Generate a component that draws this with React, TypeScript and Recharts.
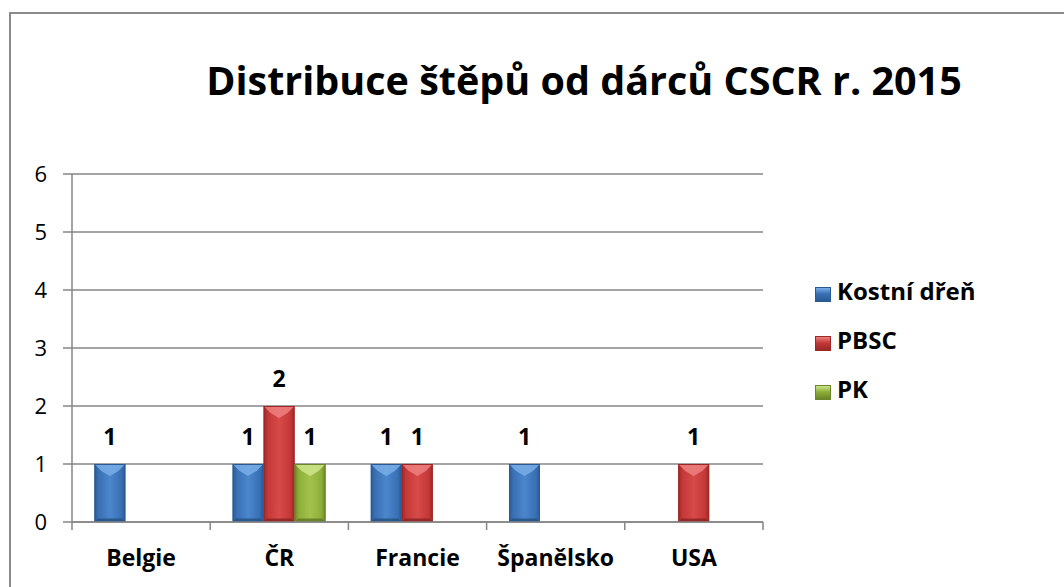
import React from 'react';
import { BarChart, Bar, XAxis, YAxis, CartesianGrid, LabelList, Legend } from 'recharts';

const categories = ['Belgie', 'ČR', 'Francie', 'Španělsko', 'USA'];
const kostniDren = [1, 1, 1, 1, null];
const pbsc = [null, 2, 1, null, 1];
const pk = [null, 1, null, null, null];
const yTicks = [0, 1, 2, 3, 4, 5, 6];
const seriesNames = ['Kostní dřeň', 'PBSC', 'PK'];
const title = 'Distribuce štěpů od dárců CSCR r. 2015';

const data = categories.map((c, i) => ({ name: c, kd: kostniDren[i], pbsc: pbsc[i], pk: pk[i] }));

const FONT = '"Open Sans", "Noto Sans", sans-serif';
const GRID = '#868686';
const W = 1064;
const H = 587;
const PLOT_LEFT = 72;
const PLOT_RIGHT = 763;
const PLOT_TOP = 174;
const PLOT_BOTTOM = 522;

const palettes = [
  { id: 'blue', dark: '#2A5A94', mid: '#3A70B4', light: '#4B86CC', top: '#78AEE8', bottom: '#24507F' },
  { id: 'red', dark: '#9C2826', mid: '#C43838', light: '#D64A4A', top: '#EE8080', bottom: '#8A2220' },
  { id: 'green', dark: '#6A8628', mid: '#8DAF38', light: '#A2C24C', top: '#CDE58C', bottom: '#5E7722' },
];

const Gradients = () => (
  <defs>
    {palettes.map((p) => (
      <linearGradient key={p.id} id={`grad-${p.id}`} x1="0" y1="0" x2="1" y2="0">
        <stop offset="0%" stopColor={p.dark} />
        <stop offset="14%" stopColor={p.mid} />
        <stop offset="50%" stopColor={p.light} />
        <stop offset="86%" stopColor={p.mid} />
        <stop offset="100%" stopColor={p.dark} />
      </linearGradient>
    ))}
  </defs>
);

const makeShape = (pi: number) => (props: any) => {
  const { x, y, width: w, height: h } = props;
  if (h == null || h <= 0 || w == null) return <g />;
  const p = palettes[pi];
  const b = Math.min(7, h / 3, w / 4);
  return (
    <g>
      <rect x={x} y={y} width={w} height={h} fill={`url(#grad-${p.id})`} />
      <polygon
        points={`${x},${y} ${x + w},${y} ${x + w - b},${y + b} ${x + w / 2},${y + b * 1.7} ${x + b},${y + b}`}
        fill={p.top}
        opacity={0.85}
      />
      <polygon
        points={`${x},${y + h} ${x + w},${y + h} ${x + w - b * 0.5},${y + h - b * 0.5} ${x + b * 0.5},${y + h - b * 0.5}`}
        fill={p.bottom}
        opacity={0.8}
      />
      <rect x={x + 0.5} y={y + 0.5} width={w - 1} height={h - 1} fill="none" stroke={p.dark} strokeWidth={1} />
    </g>
  );
};

const XTick = (props: any) => {
  const { x, y, payload, index, visibleTicksCount } = props;
  const bw = (PLOT_RIGHT - PLOT_LEFT) / categories.length;
  const half = payload && payload.offset > 0 ? payload.offset : bw / 2;
  return (
    <g>
      <line x1={x - half} x2={x - half} y1={y} y2={y + 8} stroke={GRID} strokeWidth={1.5} />
      {index === (visibleTicksCount ?? categories.length) - 1 && (
        <line x1={x + half} x2={x + half} y1={y} y2={y + 8} stroke={GRID} strokeWidth={1.5} />
      )}
      <text x={x} y={y + 44} textAnchor="middle" fontFamily={FONT} fontWeight={700} fontSize={23} fill="#000">
        {payload.value}
      </text>
    </g>
  );
};

const LegendContent = () => (
  <div style={{ fontFamily: FONT, fontWeight: 700, fontSize: 24, color: '#000' }}>
    {seriesNames.map((n, i) => {
      const p = palettes[i];
      return (
        <div key={n} style={{ height: 49, lineHeight: '49px', display: 'flex', alignItems: 'center', whiteSpace: 'nowrap' }}>
          <span
            style={{
              display: 'inline-block',
              width: 16,
              height: 15,
              marginRight: 6,
              marginTop: 8,
              boxSizing: 'border-box',
              border: `1px solid ${p.dark}`,
              background: `linear-gradient(to bottom, ${p.top} 0%, ${p.mid} 45%, ${p.dark} 100%)`,
            }}
          />
          <span>{n}</span>
        </div>
      );
    })}
  </div>
);

export default function App() {
  return (
    <div style={{ position: 'relative', width: W, height: H, overflow: 'hidden', background: '#fff' }}>
      <style>{'body{margin:0;}'}</style>
      <div
        style={{
          position: 'absolute',
          left: 9,
          top: 12,
          width: W,
          height: H,
          borderTop: '2px solid #8a8a8a',
          borderLeft: '2px solid #8a8a8a',
        }}
      />
      <div
        style={{
          position: 'absolute',
          left: 84,
          width: 1000,
          top: 60,
          textAlign: 'center',
          fontFamily: FONT,
          fontWeight: 700,
          fontSize: 39.5,
          lineHeight: '40px',
          color: '#000',
          whiteSpace: 'nowrap',
        }}
      >
        {title}
      </div>
      <div style={{ position: 'absolute', left: 0, top: 0 }}>
        <BarChart
          width={W}
          height={H}
          data={data}
          margin={{ top: PLOT_TOP, right: W - PLOT_RIGHT, bottom: H - PLOT_BOTTOM - 30, left: 0 }}
          barCategoryGap="16.2%"
          barGap={0}
        >
          <Gradients />
          <CartesianGrid vertical={false} stroke={GRID} strokeWidth={1.5} />
          <XAxis
            dataKey="name"
            height={30}
            axisLine={{ stroke: GRID, strokeWidth: 1.5 }}
            tickLine={false}
            tickSize={0}
            tickMargin={0}
            interval={0}
            tick={<XTick />}
          />
          <YAxis
            width={PLOT_LEFT}
            domain={[0, 6]}
            ticks={yTicks}
            interval={0}
            axisLine={{ stroke: GRID, strokeWidth: 1.5 }}
            tickLine={{ stroke: GRID, strokeWidth: 1.5 }}
            tickSize={9}
            tickMargin={16}
            tick={{ fontFamily: FONT, fontSize: 22, fill: '#000' }}
          />
          <Legend
            layout="horizontal"
            align="center"
            verticalAlign="middle"
            content={<LegendContent />}
            wrapperStyle={{ position: 'absolute', left: 815, top: 266, width: 220 }}
          />
          <Bar dataKey="kd" name={seriesNames[0]} isAnimationActive={false} shape={makeShape(0)}>
            <LabelList dataKey="kd" position="top" offset={19} style={{ fontFamily: FONT, fontWeight: 700, fontSize: 23, fill: '#000' }} />
          </Bar>
          <Bar dataKey="pbsc" name={seriesNames[1]} isAnimationActive={false} shape={makeShape(1)}>
            <LabelList dataKey="pbsc" position="top" offset={19} style={{ fontFamily: FONT, fontWeight: 700, fontSize: 23, fill: '#000' }} />
          </Bar>
          <Bar dataKey="pk" name={seriesNames[2]} isAnimationActive={false} shape={makeShape(2)}>
            <LabelList dataKey="pk" position="top" offset={19} style={{ fontFamily: FONT, fontWeight: 700, fontSize: 23, fill: '#000' }} />
          </Bar>
        </BarChart>
      </div>
    </div>
  );
}
